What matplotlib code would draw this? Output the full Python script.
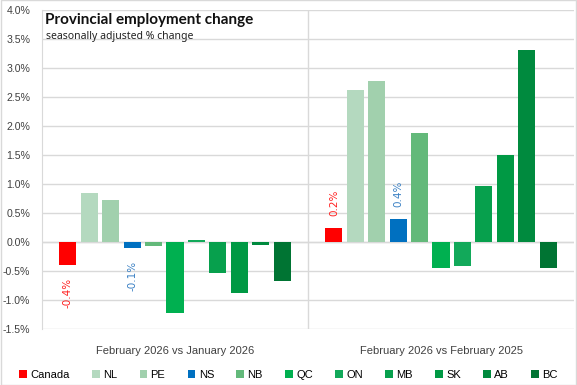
import numpy as np
import matplotlib.pyplot as plt

periods = ['February 2026 vs January 2026', 'February 2026 vs February 2025']
regions = ['Canada', 'NL', 'PE', 'NS', 'NB', 'QC', 'ON', 'MB', 'SK', 'AB', 'BC']
jan_vals = [-0.40, 0.85, 0.73, -0.11, -0.07, -1.23, 0.04, -0.54, -0.88, -0.05, -0.68]
yoy_vals = [0.24, 2.62, 2.77, 0.39, 1.88, -0.44, -0.42, 0.97, 1.50, 3.31, -0.44]
colors = ['#ff0000', '#b4d9bf', '#a1d0ad', '#0070c0', '#63b97a', '#00b050',
          '#12a95a', '#07a04d', '#009944', '#008a3e', '#007433']
# labelled bars: Canada and NS
labelled = {'Canada': '#ff2020', 'NS': '#3a80c4'}
ylabels = [f'{v:.1f}%' for v in np.arange(-1.5, 4.01, 0.5)]

fig = plt.figure(figsize=(5.77, 3.85), dpi=100)
ax = fig.add_axes([0.0728, 0.1455, 0.922, 0.8285])

step = 0.0805
width = 0.064
for i, reg in enumerate(regions):
    xs = np.arange(2) + (i - 5) * step
    vals = [jan_vals[i], yoy_vals[i]]
    ax.bar(xs, vals, width, color=colors[i], label=reg, zorder=3)
    if reg in labelled:
        for x, v in zip(xs, vals):
            off = 9 if v > 0 else -9
            ax.annotate(f'{v:.1f}%', (x, v), xytext=(0, off), textcoords='offset points',
                        rotation=90, ha='center', va='bottom' if v > 0 else 'top',
                        fontsize=7.5, color=labelled[reg], family='DejaVu Sans')

ax.set_xlim(-0.5, 1.5)
ax.set_ylim(-1.5, 4.0)
ax.set_yticks(np.arange(-1.5, 4.01, 0.5))
ax.set_yticklabels(ylabels, fontsize=7.6, color='#404040', family='Liberation Sans')
ax.set_xticks([0, 1])
ax.set_xticklabels(periods, fontsize=8, color='#404040', family='Liberation Sans')
ax.tick_params(axis='both', length=0)
ax.tick_params(axis='x', pad=12)
ax.tick_params(axis='y', pad=8.5)
ax.grid(axis='y', color='#d9d9d9', linewidth=1, zorder=0)
ax.axhline(0, color='#d9d9d9', linewidth=1, zorder=1)
ax.axvline(0.5, color='#d9d9d9', linewidth=1, zorder=1)
for s in ['top', 'right', 'bottom']:
    ax.spines[s].set_visible(False)
ax.spines['left'].set_color('#d9d9d9')

fig.text(0.078, 0.948, 'Provincial employment change', fontsize=11, fontweight='bold',
         family='Lato', color='#111111', va='center')
fig.text(0.080, 0.906, 'seasonally adjusted % change', fontsize=7.5,
         family='Noto Sans', color='#222222', va='center')

fig.legend(loc='center', bbox_to_anchor=(0.5, 0.027), ncol=11, frameon=False,
           handlelength=0.7, handleheight=0.7, handletextpad=0.3,
           columnspacing=2.0, prop={'family': 'Liberation Sans', 'size': 8})

border = plt.Rectangle((0.001, 0.001), 0.998, 0.998, transform=fig.transFigure,
                       fill=False, edgecolor='#d9d9d9', linewidth=1)
fig.patches.append(border)

fig.savefig('out.png', dpi=100)
